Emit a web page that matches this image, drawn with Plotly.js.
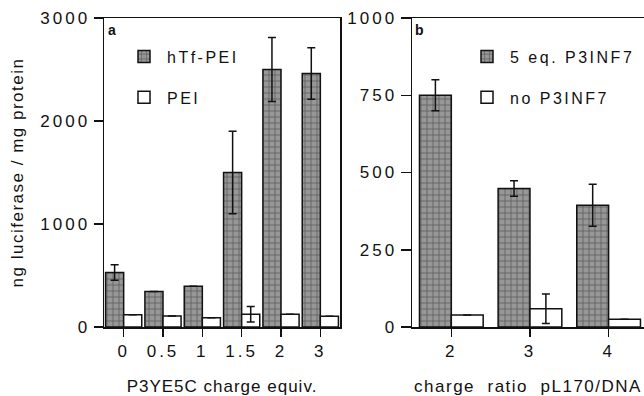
<!DOCTYPE html>
<html>
<head>
<meta charset="utf-8">
<script src="https://cdn.plot.ly/plotly-3.0.1.min.js"></script>
<style>
  html, body { margin: 0; padding: 0; background: #fff; }
  #chart { width: 644px; height: 396px; }
  text { letter-spacing: 2.5px; }
  g[class$="tick"] text { letter-spacing: 3px; }
  .g-xtitle text, text.xtitle { letter-spacing: 1px; }
  .g-ytitle text, text.ytitle { letter-spacing: 1.5px; }
  .g-x2title text, text.x2title { letter-spacing: 1.5px; }
  .annotation text, text.annotation-text { letter-spacing: 0; }
</style>
</head>
<body>
<div id="chart"></div>
<script>
// Panel a data
const catsA = ["0", "0.5", "1", "1.5", "2", "3"];
const hTfPEI = [530, 345, 395, 1500, 2500, 2460];
const hTfPEIErr = [75, null, null, 400, 310, 250];
const PEI = [118, 108, 91, 124, 124, 105];
const PEIErr = [null, null, null, 75, null, null];
const ticksA = [0, 1000, 2000, 3000];

// Panel b data
const catsB = ["2", "3", "4"];
const eq5 = [750, 448, 394];
const eq5Err = [50, 25, 68];
const noP3 = [39, 59, 25];
const noP3Err = [null, 48, null];
const ticksB = [0, 250, 500, 750, 1000];

const FONT = "Liberation Sans, Arial, Helvetica, sans-serif";
const pat = {shape: "+", bgcolor: "#979797", fgcolor: "#5c5c5c", size: 6, solidity: 0.25};
const eb = (arr) => ({type: "data", array: arr, visible: true, color: "#111", thickness: 1.5, width: 4});
const wA = 0.46, wB = 0.405;

const traces = [
  {type: "bar", x: catsA, y: hTfPEI, name: "hTf-PEI", xaxis: "x", yaxis: "y",
   width: wA, offset: -wA, legend: "legend", legendgroup: "a1",
   marker: {color: "#979797", pattern: pat, line: {color: "#111", width: 1.5}},
   error_y: eb(hTfPEIErr)},
  {type: "bar", x: catsA, y: PEI, name: "PEI", xaxis: "x", yaxis: "y",
   width: wA, offset: 0, legend: "legend", legendgroup: "a2",
   marker: {color: "#ffffff", line: {color: "#111", width: 1.5}},
   error_y: eb(PEIErr)},
  {type: "bar", x: catsB, y: eq5, name: "5 eq. P3INF7", xaxis: "x2", yaxis: "y2",
   width: wB, offset: -wB, legend: "legend2", legendgroup: "b1",
   marker: {color: "#979797", pattern: pat, line: {color: "#111", width: 1.5}},
   error_y: eb(eq5Err)},
  {type: "bar", x: catsB, y: noP3, name: "no P3INF7", xaxis: "x2", yaxis: "y2",
   width: wB, offset: 0, legend: "legend2", legendgroup: "b2",
   marker: {color: "#ffffff", line: {color: "#111", width: 1.5}},
   error_y: eb(noP3Err)}
];

const axBase = {
  showline: true, linecolor: "#111", linewidth: 1.5,
  ticks: "outside", tickcolor: "#111", tickwidth: 1.5,
  showgrid: false, zeroline: false,
  tickfont: {family: FONT, size: 17, color: "#111"}
};

const layout = {
  width: 644, height: 396,
  margin: {l: 0, r: 0, t: 18, b: 69},
  paper_bgcolor: "#fff", plot_bgcolor: "#fff",
  barmode: "overlay",
  font: {family: FONT, color: "#111"},
  xaxis: Object.assign({}, axBase, {
    domain: [104/644, 340/644], anchor: "y", type: "category",
    range: [-0.5, 5.5], mirror: true, ticklen: 8,
    title: {text: "P3YE5C charge equiv.", font: {family: FONT, size: 17, color: "#111"}, standoff: 20}
  }),
  yaxis: Object.assign({}, axBase, {
    domain: [0, 1], anchor: "x", range: [0, 3000], tickvals: ticksA,
    mirror: true, ticklen: 9,
    title: {text: "ng luciferase / mg protein", font: {family: FONT, size: 17, color: "#111"}, standoff: 12}
  }),
  xaxis2: Object.assign({}, axBase, {
    domain: [412/644, 1], anchor: "y2", type: "category",
    range: [-0.5, 2.45], mirror: true, ticklen: 8,
    title: {text: "charge\u00a0 ratio\u00a0 pL170/DNA", font: {family: FONT, size: 17, color: "#111"}, standoff: 20}
  }),
  yaxis2: Object.assign({}, axBase, {
    domain: [0, 1], anchor: "x2", range: [0, 1000], tickvals: ticksB,
    mirror: false, ticklen: 10
  }),
  legend: {x: 121/644, y: 0.93, xanchor: "left", yanchor: "top", itemwidth: 36,
    bgcolor: "rgba(0,0,0,0)", tracegroupgap: 17,
    font: {family: FONT, size: 16, color: "#111"}},
  legend2: {x: 464/644, y: 0.93, xanchor: "left", yanchor: "top", itemwidth: 36,
    bgcolor: "rgba(0,0,0,0)", tracegroupgap: 17,
    font: {family: FONT, size: 16, color: "#111"}},
  annotations: [
    {text: "<b>a</b>", xref: "x domain", yref: "y domain", x: 0.01, y: 0.995,
     xanchor: "left", yanchor: "top", showarrow: false, font: {family: FONT, size: 14, color: "#111"}},
    {text: "<b>b</b>", xref: "x2 domain", yref: "y2 domain", x: 0.005, y: 0.995,
     xanchor: "left", yanchor: "top", showarrow: false, font: {family: FONT, size: 14, color: "#111"}}
  ],
  showlegend: true
};

Plotly.newPlot("chart", traces, layout, {displayModeBar: false, staticPlot: true});
</script>
</body>
</html>
